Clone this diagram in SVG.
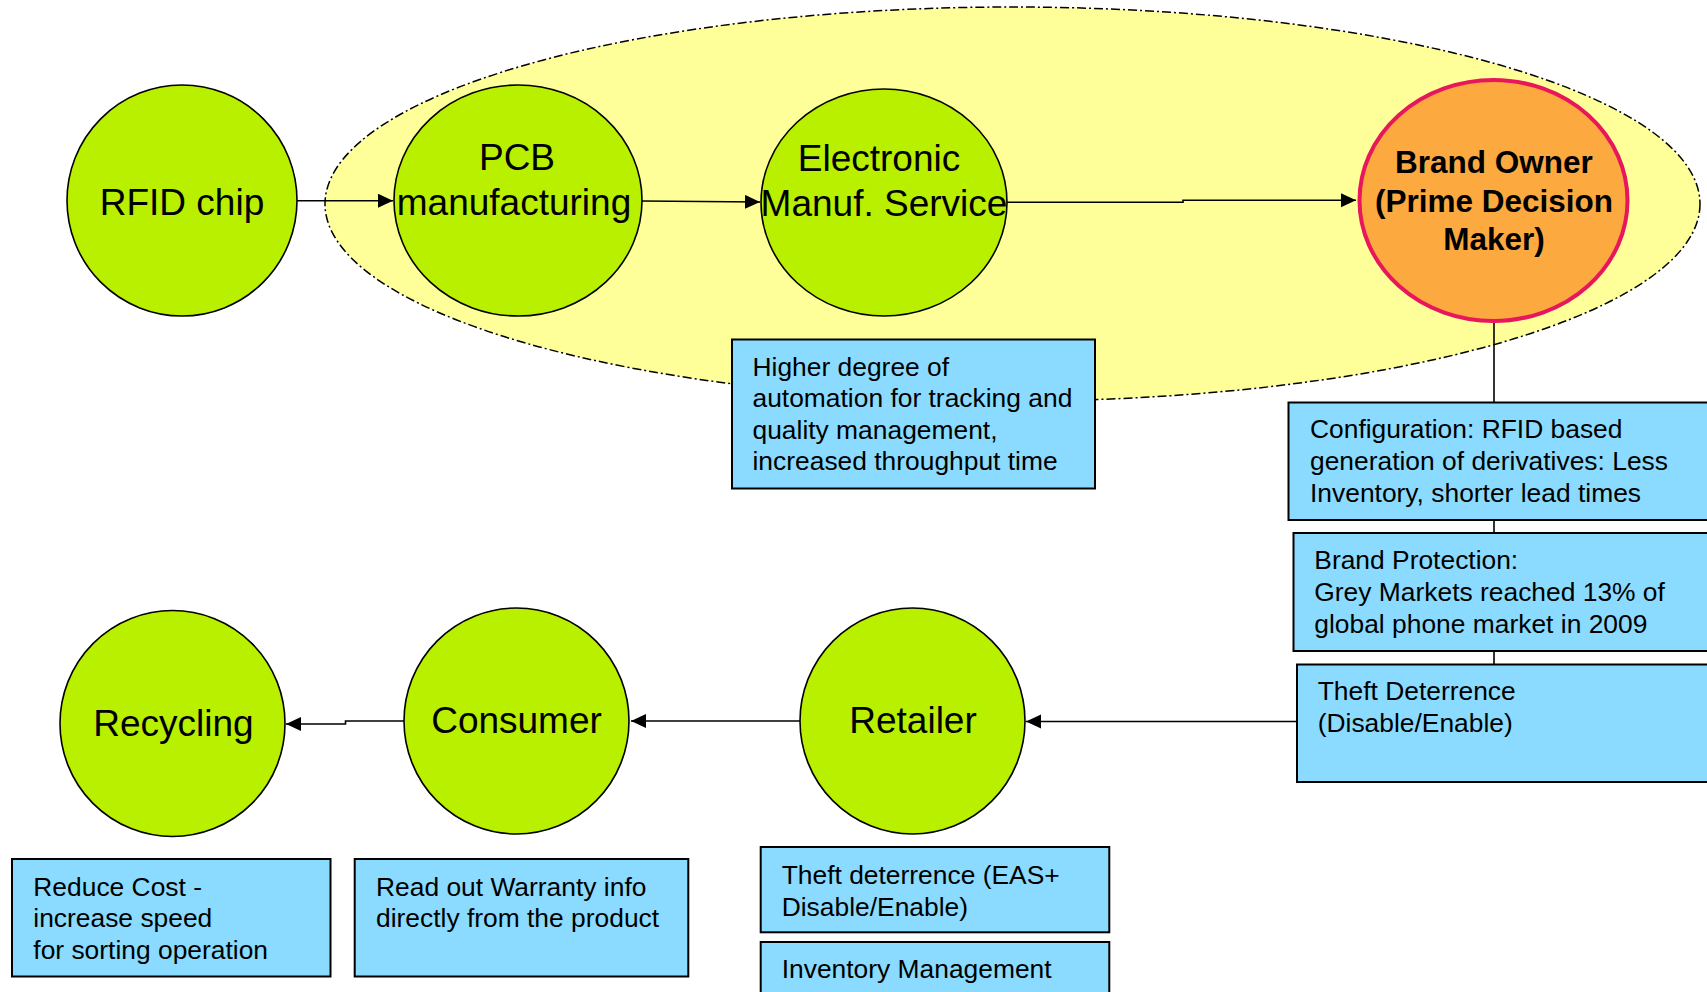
<svg xmlns="http://www.w3.org/2000/svg" width="1707" height="992" viewBox="0 0 1707 992">
<defs>
<marker id="arrow" markerUnits="userSpaceOnUse" markerWidth="16" markerHeight="16" refX="15" refY="7" orient="auto">
<path d="M0,0 L15,7 L0,14 z" fill="#000"/>
</marker>
<style>
text { font-family: "Liberation Sans", Arial, sans-serif; fill: #000; }
.node { fill: #B8F000; stroke: #000; stroke-width: 1.6; }
.nlabel { font-size: 37px; text-anchor: middle; }
.box { fill: #8ADBFF; stroke: #000; stroke-width: 2; }
.btext { font-size: 26.4px; }
.conn { fill: none; stroke: #000; stroke-width: 1.6; }
</style>
</defs>
<rect width="1707" height="992" fill="#fff"/>

<g id="zone">
<ellipse cx="1012.5" cy="204" rx="687.5" ry="197" fill="#FFFF99" stroke="#000" stroke-width="1.5" stroke-dasharray="9 3 2 3"/>
</g>

<g id="connectors">
<path class="conn" d="M297,200.7 L393,200.7" marker-end="url(#arrow)"/>
<path class="conn" d="M642,201 L760,202" marker-end="url(#arrow)"/>
<path class="conn" d="M1007,202.3 L1183,202.3 L1183,200.3 L1356,200.3" marker-end="url(#arrow)"/>
<path class="conn" d="M1494,322 L1494,402"/>
<path class="conn" d="M1494,520 L1494,533"/>
<path class="conn" d="M1494,651 L1494,664"/>
<path class="conn" d="M1297,721.5 L1026,721.5" marker-end="url(#arrow)"/>
<path class="conn" d="M800,721 L631,721" marker-end="url(#arrow)"/>
<path class="conn" d="M404,721 L345.5,721 L345.5,724 L286,724" marker-end="url(#arrow)"/>
</g>

<g id="rfid-chip">
<ellipse class="node" cx="182" cy="200.5" rx="115" ry="115.5"/>
<text class="nlabel" x="182" y="215">RFID chip</text>
</g>

<g id="pcb">
<ellipse class="node" cx="518" cy="200.5" rx="124" ry="115.5"/>
<text class="nlabel" x="517" y="170">PCB</text>
<text class="nlabel" x="514" y="215">manufacturing</text>
</g>

<g id="ems">
<ellipse class="node" cx="884" cy="202.5" rx="123" ry="113.5"/>
<text class="nlabel" x="879" y="171">Electronic</text>
<text class="nlabel" x="884" y="216">Manuf. Service</text>
</g>

<g id="brand-owner">
<ellipse cx="1493.5" cy="200.5" rx="134" ry="120.5" fill="#FCA93F" stroke="#E8175D" stroke-width="4"/>
<text x="1494" y="173" font-size="31.5" font-weight="bold" text-anchor="middle">Brand Owner</text>
<text x="1494" y="211.5" font-size="31.5" font-weight="bold" text-anchor="middle">(Prime Decision</text>
<text x="1494" y="249.5" font-size="31.5" font-weight="bold" text-anchor="middle">Maker)</text>
</g>

<g id="box-automation">
<rect class="box" x="732" y="339.5" width="363" height="149"/>
<text class="btext" x="752.5" y="375.7">Higher degree of</text>
<text class="btext" x="752.5" y="407">automation for tracking and</text>
<text class="btext" x="752.5" y="438.5">quality management,</text>
<text class="btext" x="752.5" y="470">increased throughput time</text>
</g>

<g id="box-configuration">
<rect class="box" x="1288.5" y="402.5" width="430" height="117.5"/>
<text class="btext" x="1310" y="438.3">Configuration: RFID based</text>
<text class="btext" x="1310" y="470">generation of derivatives: Less</text>
<text class="btext" x="1310" y="502.3">Inventory, shorter lead times</text>
</g>

<g id="box-brand-protection">
<rect class="box" x="1293.5" y="533" width="430" height="118"/>
<text class="btext" x="1314.3" y="569">Brand Protection:</text>
<text class="btext" x="1314.3" y="600.7">Grey Markets reached 13% of</text>
<text class="btext" x="1314.3" y="632.7">global phone market in 2009</text>
</g>

<g id="box-theft-brand">
<rect class="box" x="1297" y="664.5" width="430" height="117.5"/>
<text class="btext" x="1317.7" y="700">Theft Deterrence</text>
<text class="btext" x="1317.7" y="732">(Disable/Enable)</text>
</g>

<g id="retailer">
<ellipse class="node" cx="912.5" cy="721" rx="112.5" ry="113"/>
<text class="nlabel" x="913" y="733.3">Retailer</text>
</g>

<g id="consumer">
<ellipse class="node" cx="516.5" cy="721" rx="112.5" ry="113"/>
<text class="nlabel" x="516.5" y="733.3">Consumer</text>
</g>

<g id="recycling">
<ellipse class="node" cx="172.5" cy="723.5" rx="112.5" ry="113"/>
<text class="nlabel" x="173.5" y="736">Recycling</text>
</g>

<g id="box-recycling">
<rect class="box" x="12" y="859" width="318.5" height="117.5"/>
<text class="btext" x="33.3" y="895.7">Reduce Cost -</text>
<text class="btext" x="33.3" y="927.3">increase speed</text>
<text class="btext" x="33.3" y="959.3">for sorting operation</text>
</g>

<g id="box-consumer">
<rect class="box" x="354.7" y="859" width="333.6" height="117.5"/>
<text class="btext" x="376" y="895.7">Read out Warranty info</text>
<text class="btext" x="376" y="927.3">directly from the product</text>
</g>

<g id="box-retailer-theft">
<rect class="box" x="760.7" y="847" width="348.6" height="85.3"/>
<text class="btext" x="781.7" y="884">Theft deterrence (EAS+</text>
<text class="btext" x="781.7" y="916">Disable/Enable)</text>
</g>

<g id="box-inventory">
<rect class="box" x="760.7" y="942" width="348.6" height="70"/>
<text class="btext" x="781.7" y="978.3">Inventory Management</text>
</g>
</svg>
